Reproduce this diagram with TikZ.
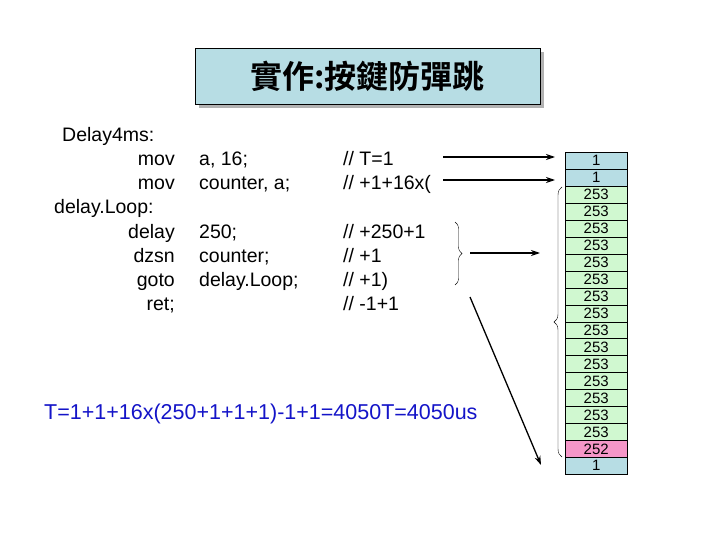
\documentclass[tikz,border=0pt]{standalone}
\usepackage{fontspec}
\setmainfont{Liberation Sans}
\newfontfamily\cjk{Noto Sans CJK TC}[BoldFont={* Bold}]
\usetikzlibrary{decorations.pathreplacing,arrows.meta}
\definecolor{tblue}{RGB}{183,221,228}
\definecolor{cgreen}{RGB}{208,248,208}
\definecolor{cpink}{RGB}{245,150,200}
\definecolor{fblue}{RGB}{20,20,200}
\begin{document}
\begin{tikzpicture}[x=1pt,y=-1pt,
  code/.style={anchor=base west,inner sep=0pt,font=\fontsize{19.5}{19.5}\selectfont},
  codr/.style={anchor=base east,inner sep=0pt,font=\fontsize{19.5}{19.5}\selectfont},
  cell/.style={draw=black,line width=0.5pt,minimum width=62pt,minimum height=16.95pt,inner sep=0pt,anchor=north west,font=\fontsize{15}{15}\selectfont},
  arr/.style={-{Stealth[length=9pt,width=6pt]},line width=1.3pt}]
\useasboundingbox (0,0) rectangle (720,540);
\fill[gray!60] (199,52) rectangle (544,108);
\node[draw=black,fill=tblue,minimum width=345pt,minimum height=56pt,anchor=north west,inner sep=0pt] (title) at (195,48) {};
\node[font=\cjk\bfseries\fontsize{32}{32}\selectfont] at (title.center) {實作:按鍵防彈跳};
\node[code] (l1) at (62,142) {Delay4ms:};
\node[codr] (m1) at (175,166) {mov};
\node[codr] (m2) at (175,190) {mov};
\node[code] (l2) at (54,214) {delay.Loop:};
\node[codr] (m3) at (175,238) {delay};
\node[codr] (m4) at (175,262) {dzsn};
\node[codr] (m5) at (175,286) {goto};
\node[codr] (m6) at (175,310) {ret;};
\node[code] (o1) at (199,166) {a, 16;};
\node[code] (o2) at (199,190) {counter, a;};
\node[code] (o3) at (199,238) {250;};
\node[code] (o4) at (199,262) {counter;};
\node[code] (o5) at (199,286) {delay.Loop;};
\node[code] (c1) at (343,166) {// T=1};
\node[code] (c2) at (343,190) {// +1+16x(};
\node[code] (c3) at (343,238) {// +250+1};
\node[code] (c4) at (343,262) {// +1};
\node[code] (c5) at (343,286) {// +1)};
\node[code] (c6) at (343,310) {// -1+1};
\node[code,text=fblue,font=\fontsize{21.5}{21.5}\selectfont] (f) at (44,419) {T=1+1+16x(250+1+1+1)-1+1=4050T=4050us};
\foreach \v [count=\i from 0] in {1,1,253,253,253,253,253,253,253,253,253,253,253,253,253,253,253,252,1}{
  \pgfmathsetmacro\yy{152+16.95*\i}
  \ifnum\i<2 \def\cc{tblue}\else\ifnum\i=18 \def\cc{tblue}\else\ifnum\i=17 \def\cc{cpink}\else\def\cc{cgreen}\fi\fi\fi
  \node[cell,fill=\cc] (r\i) at (565,\yy) {\v};
}
\coordinate (a1) at (443,157); \coordinate (e1) at (555,157);
\coordinate (a2) at (443,180); \coordinate (e2) at (555,180);
\draw[arr] (a1) -- (e1);
\draw[arr] (a2) -- (e2);
\draw[decorate,decoration={brace,amplitude=7pt}] (455,222) -- (455,285);
\coordinate (b1) at (470,253); \coordinate (b2) at (540,253);
\draw[arr] (b1) -- (b2);
\draw[decorate,decoration={brace,amplitude=8pt}] (562,457) -- (562,187);
\coordinate (d1) at (470,297); \coordinate (d2) at (541,465);
\draw[arr] (d1) -- (d2);
\end{tikzpicture}
\end{document}
